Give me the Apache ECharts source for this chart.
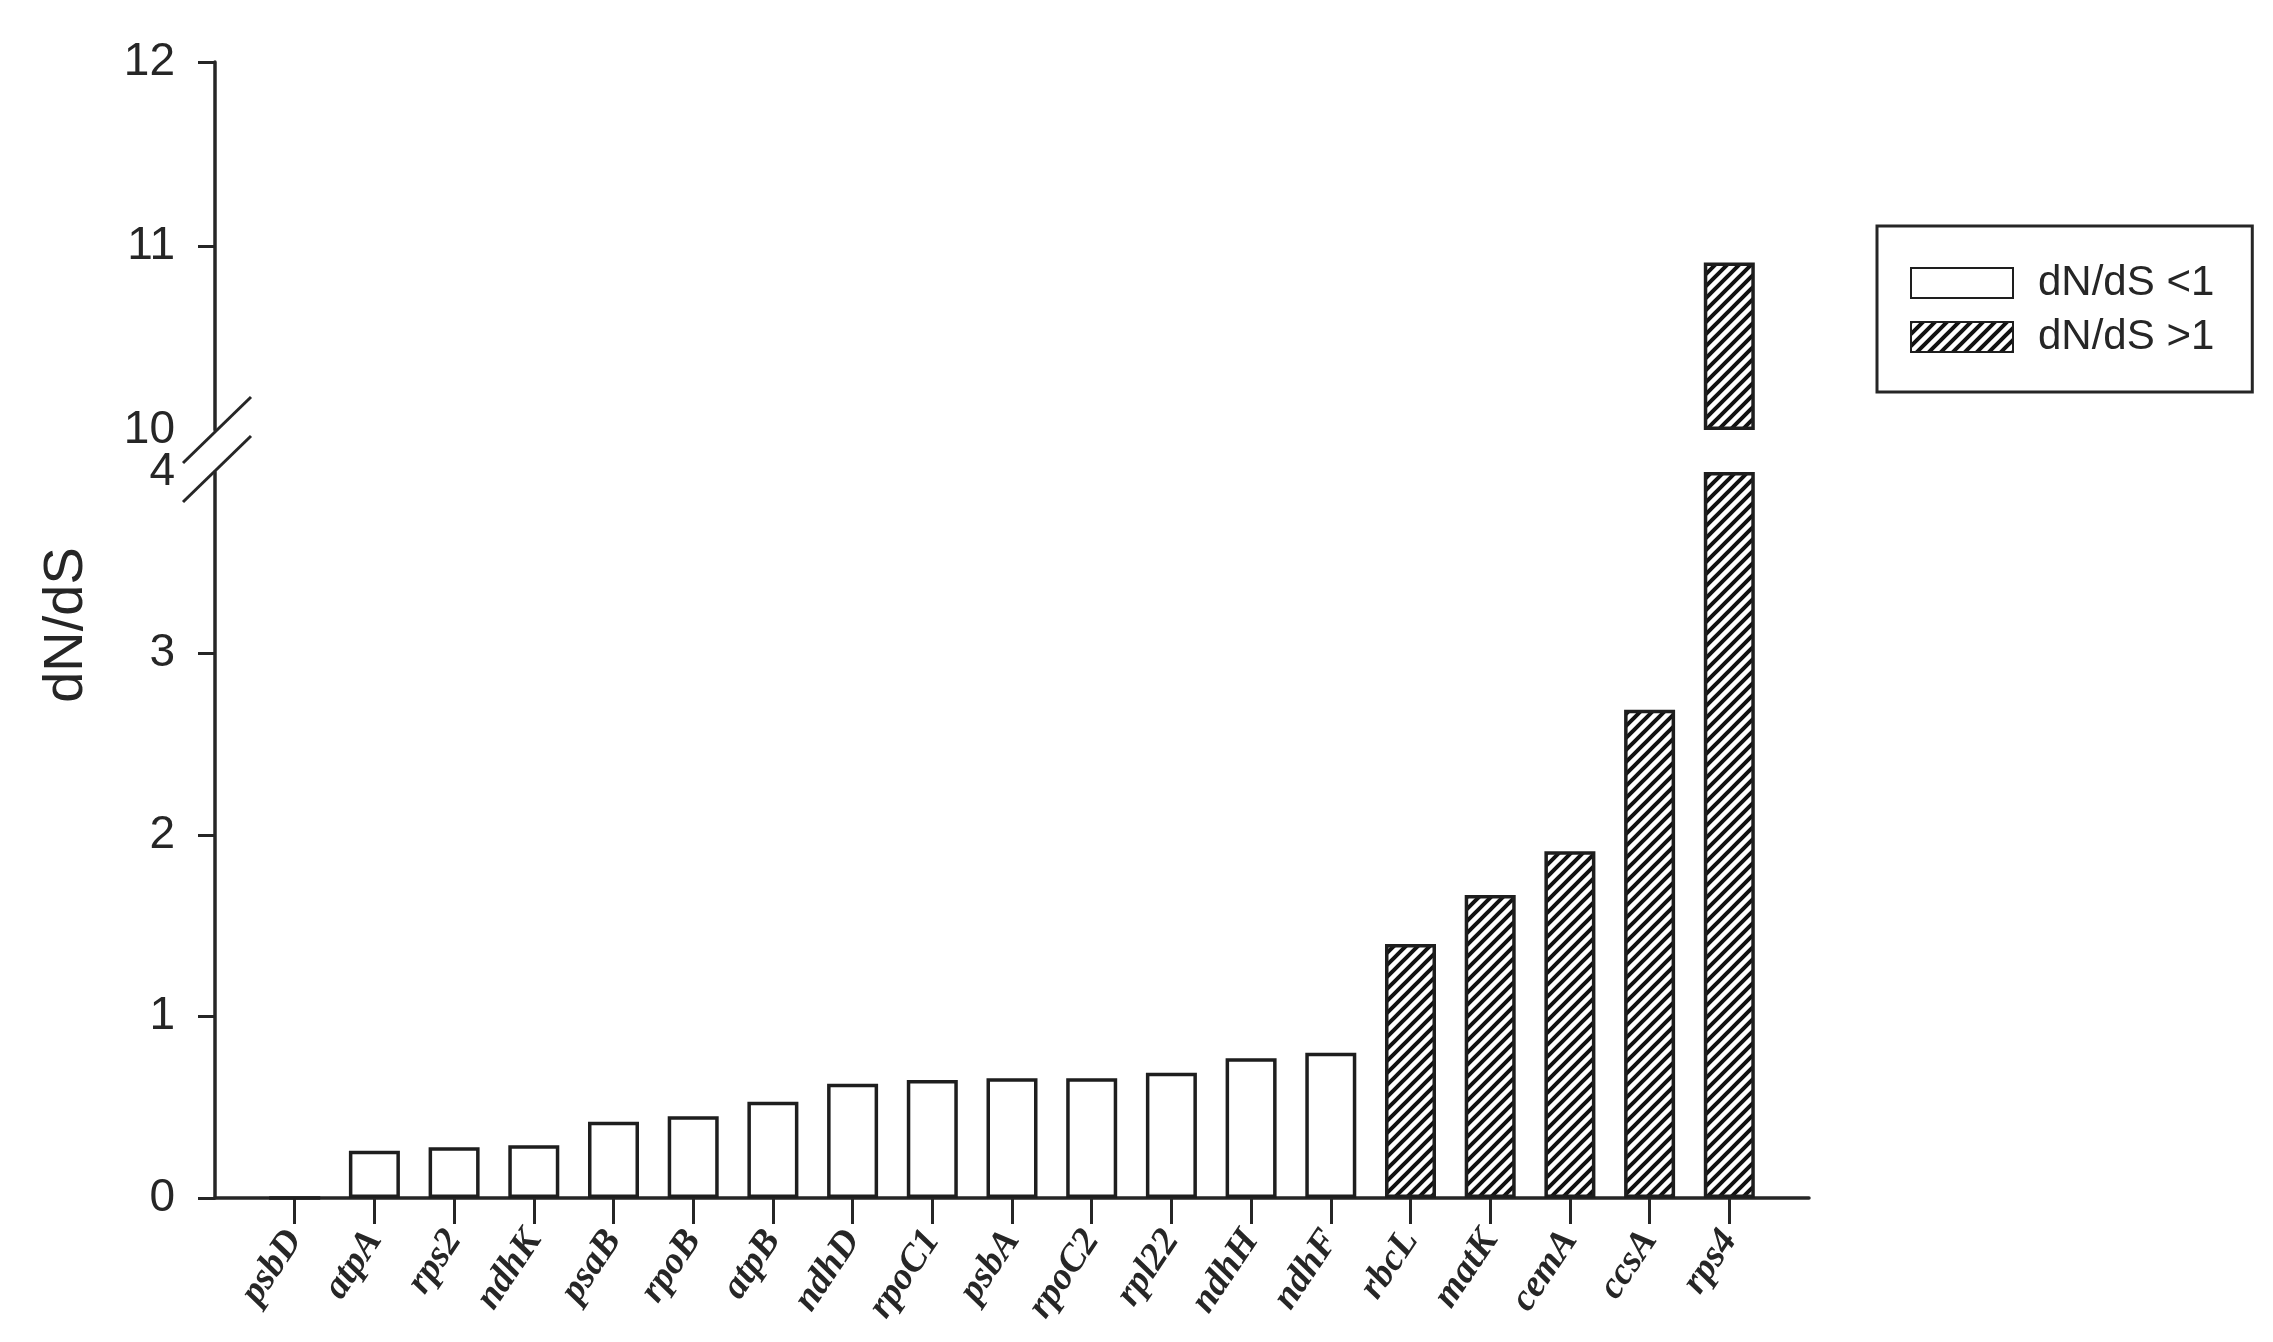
<!DOCTYPE html>
<html>
<head>
<meta charset="utf-8">
<script src="https://cdn.jsdelivr.net/npm/echarts@6/dist/echarts.min.js"></script>
<style>
  html, body { margin: 0; padding: 0; background: #fff; }
  #chart { width: 2273px; height: 1342px; }
</style>
</head>
<body>
<div id="chart"></div>
<script>
// genes (x categories) and their dN/dS values
const genes = ['psbD', 'atpA', 'rps2', 'ndhK', 'psaB', 'rpoB', 'atpB', 'ndhD', 'rpoC1', 'psbA',
  'rpoC2', 'rpl22', 'ndhH', 'ndhF', 'rbcL', 'matK', 'cemA', 'ccsA', 'rps4']
const dnds = [0, 0.26, 0.28, 0.29, 0.42, 0.45, 0.53, 0.63, 0.65, 0.66,
  0.66, 0.69, 0.77, 0.80, 1.40, 1.67, 1.91, 2.69, 10.91]
const lowerLabels = [0, 1, 2, 3, 4]
const lowerTicks = [0, 1, 2, 3]
const upperLabels = [10, 11, 12]
const upperTicks = [11, 12]
const breakLow = 4 // top of the lower part
const breakHigh = 10 // bottom of the upper part

// layout
const gridLeft = 215
const gridRight = 464
const axisColor = '#262626'
const textColor = '#262626'

// empty slot at both ends so bars sit away from the axis ends
const cats = [''].concat(genes, [''])
const pad = arr => ['-'].concat(arr, ['-'])

const lowWhite = pad(dnds.map(v => v < 1 ? v : '-'))
const lowHatch = pad(dnds.map(v => v > 1 ? Math.min(v, breakLow) : '-'))
const upBase = pad(dnds.map(v => v > breakHigh ? breakHigh : '-'))
const upHatch = pad(dnds.map(v => v > breakHigh ? +(v - breakHigh).toFixed(2) : '-'))

// diagonal hatch pattern (lines x+y = const)
function hatch () {
  const s = 12
  const c = document.createElement('canvas')
  c.width = s
  c.height = s
  const ctx = c.getContext('2d')
  ctx.fillStyle = '#fff'
  ctx.fillRect(0, 0, s, s)
  ctx.strokeStyle = '#111'
  ctx.lineWidth = 4
  ctx.beginPath()
  ;[[0, s, s, 0], [-s / 2, s / 2, s / 2, -s / 2], [s / 2, s + s / 2, s + s / 2, s / 2]].forEach(l => {
    ctx.moveTo(l[0], l[1])
    ctx.lineTo(l[2], l[3])
  })
  ctx.stroke()
  return c
}
const hatchFill = { image: hatch(), repeat: 'repeat' }

const labelFont = { fontFamily: 'Liberation Sans, Arial', fontSize: 46, color: textColor }

const barBase = {
  type: 'bar',
  barWidth: 51,
  barGap: '-100%',
  animation: false
}

const chart = echarts.init(document.getElementById('chart'))

const option = {
  backgroundColor: '#fff',
  animation: false,
  grid: [
    { left: gridLeft, right: gridRight, top: 62, height: 368, outerBoundsMode: 'none' },
    { left: gridLeft, right: gridRight, top: 472, height: 726, outerBoundsMode: 'none' }
  ],
  legend: {
    orient: 'vertical',
    left: 1877,
    top: 226,
    padding: [36, 38, 34, 33],
    itemWidth: 102,
    itemHeight: 30,
    itemGap: 12,
    borderColor: axisColor,
    borderWidth: 3,
    icon: 'rect',
    data: ['dN/dS <1', 'dN/dS >1'],
    textStyle: { fontFamily: 'Liberation Sans, Arial', fontSize: 42, lineHeight: 32, color: textColor, padding: [0, 0, 0, 20] }
  },
  xAxis: [
    {
      type: 'category',
      gridIndex: 0,
      data: cats,
      boundaryGap: false,
      show: false
    },
    {
      type: 'category',
      gridIndex: 1,
      data: cats,
      boundaryGap: false,
      axisLine: { lineStyle: { color: axisColor, width: 3.5 } },
      axisTick: {
        length: 26,
        interval: (i, v) => v !== '',
        lineStyle: { color: axisColor, width: 3 }
      },
      axisLabel: {
        interval: 0,
        rotate: 56,
        margin: 36,
        fontFamily: 'Liberation Serif, Times New Roman',
        fontStyle: 'italic',
        fontWeight: 'bold',
        fontSize: 38,
        color: textColor
      }
    }
  ],
  yAxis: [
    {
      type: 'value',
      gridIndex: 0,
      min: breakHigh,
      max: 12,
      interval: 1,
      splitLine: { show: false },
      axisLine: { show: true, lineStyle: { color: axisColor, width: 3.5 } },
      axisTick: { show: true, length: 17, customValues: upperTicks, lineStyle: { color: axisColor, width: 3 } },
      axisLabel: Object.assign({ margin: 40, customValues: upperLabels }, labelFont)
    },
    {
      type: 'value',
      gridIndex: 1,
      min: 0,
      max: breakLow,
      interval: 1,
      splitLine: { show: false },
      axisLine: { show: true, lineStyle: { color: axisColor, width: 3.5 } },
      axisTick: { show: true, length: 17, customValues: lowerTicks, lineStyle: { color: axisColor, width: 3 } },
      axisLabel: Object.assign({ margin: 40, customValues: lowerLabels }, labelFont)
    }
  ],
  series: [
    Object.assign({}, barBase, {
      name: 'dN/dS <1',
      xAxisIndex: 1,
      yAxisIndex: 1,
      data: lowWhite,
      itemStyle: { color: '#fff', borderColor: '#1e1e1e', borderWidth: 3.5 }
    }),
    Object.assign({}, barBase, {
      name: 'dN/dS >1',
      xAxisIndex: 1,
      yAxisIndex: 1,
      data: lowHatch,
      itemStyle: { color: hatchFill, borderColor: '#1e1e1e', borderWidth: 3.5 }
    }),
    Object.assign({}, barBase, {
      name: 'base',
      xAxisIndex: 0,
      yAxisIndex: 0,
      stack: 'up',
      silent: true,
      data: upBase,
      itemStyle: { color: 'rgba(0,0,0,0)', borderWidth: 0 }
    }),
    Object.assign({}, barBase, {
      name: 'dN/dS >1',
      xAxisIndex: 0,
      yAxisIndex: 0,
      stack: 'up',
      data: upHatch,
      itemStyle: { color: hatchFill, borderColor: '#1e1e1e', borderWidth: 3.5 }
    })
  ]
}

chart.setOption(option)

// break marks on the y axis and the y axis title
const yHigh = chart.convertToPixel({ yAxisIndex: 0 }, breakHigh)
const yLow = chart.convertToPixel({ yAxisIndex: 1 }, breakLow)
const slash = (cy) => ({
  type: 'line',
  shape: { x1: gridLeft + 2 - 34, y1: cy + 33, x2: gridLeft + 2 + 34, y2: cy - 33 },
  style: { stroke: axisColor, lineWidth: 3 },
  z: 10
})
chart.setOption({
  graphic: [
    slash(yHigh),
    slash(yLow - 3),
    {
      type: 'text',
      x: 67,
      y: 625,
      rotation: Math.PI / 2,
      style: {
        text: 'dN/dS',
        fontFamily: 'Liberation Sans, Arial',
        fontSize: 56,
        fill: textColor,
        align: 'center',
        verticalAlign: 'middle'
      }
    }
  ]
})
</script>
</body>
</html>
